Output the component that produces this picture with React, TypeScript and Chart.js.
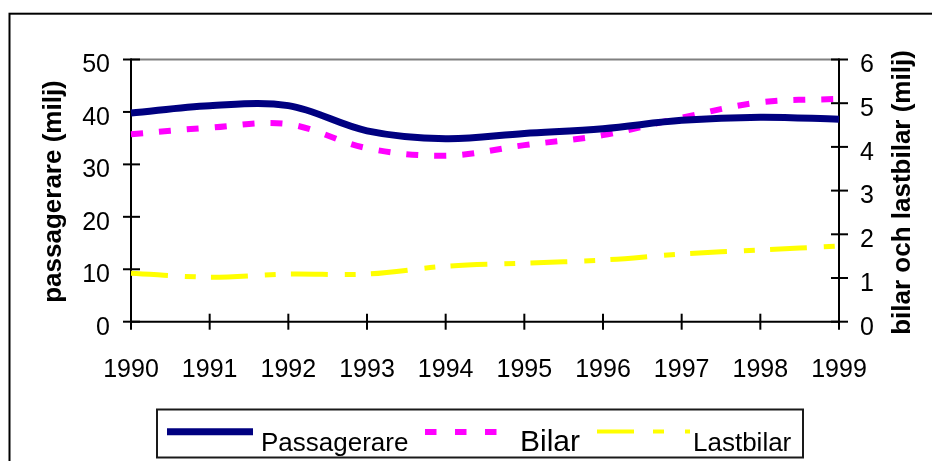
import React, { useEffect, useRef } from "react";
import { Chart, registerables } from "chart.js";

Chart.register(...registerables);

// ---- data ----
const years = ["1990", "1991", "1992", "1993", "1994", "1995", "1996", "1997", "1998", "1999"];
const passagerare = [39.8, 41.2, 41.2, 36.4, 34.9, 35.9, 36.8, 38.4, 39.0, 38.6];
const bilar = [4.29, 4.44, 4.52, 3.97, 3.8, 4.04, 4.27, 4.67, 5.02, 5.1];
const lastbilar = [1.11, 1.02, 1.09, 1.09, 1.27, 1.34, 1.41, 1.55, 1.64, 1.73];
const seriesLabels = ["Passagerare", "Bilar", "Lastbilar"];
const leftAxisTitle = "passagerare (milj)";
const rightAxisTitle = "bilar och lastbilar (milj)";
const leftRange = [0, 50, 10];
const rightRange = [0, 6, 1];

const FONT = "'Liberation Sans', Arial, Helvetica, sans-serif";
const NAVY = "#000080";
const MAGENTA = "#FF00FF";
const YELLOW = "#FFFF00";

const W = 932;
const H = 461;

const decorPlugin = {
  id: "decor",
  beforeDatasetsDraw(chart: any) {
    const { ctx, chartArea: a, scales } = chart;
    const line = (x1: number, y1: number, x2: number, y2: number) => {
      ctx.beginPath();
      ctx.moveTo(x1, y1);
      ctx.lineTo(x2, y2);
      ctx.stroke();
    };
    ctx.save();
    ctx.lineCap = "butt";
    ctx.strokeStyle = "#808080";
    ctx.lineWidth = 2;
    line(a.left, a.top, a.right, a.top);
    ctx.strokeStyle = "#000000";
    line(a.left, a.top - 1, a.left, a.bottom + 1);
    line(a.right, a.top - 1, a.right, a.bottom + 1);
    line(a.left, a.bottom, a.right, a.bottom);
    scales.y.ticks.forEach((t: any) => {
      const p = scales.y.getPixelForValue(t.value);
      line(a.left - 8, p, a.left + 9, p);
    });
    scales.y1.ticks.forEach((t: any) => {
      const p = scales.y1.getPixelForValue(t.value);
      line(a.right - 8, p, a.right + 9, p);
    });
    scales.x.ticks.forEach((_t: any, i: number) => {
      const p = scales.x.getPixelForTick(i);
      line(p, a.bottom - 8, p, a.bottom + 8);
    });
    ctx.restore();
  },
  afterDraw(chart: any) {
    const { ctx } = chart;
    ctx.save();
    // outer frame (extends beyond the picture on right and bottom)
    ctx.strokeStyle = "#000000";
    ctx.lineWidth = 2;
    ctx.strokeRect(9.5, 13.7, 1000, 1000);

    // axis titles
    ctx.fillStyle = "#000000";
    ctx.font = `bold 26px ${FONT}`;
    ctx.textAlign = "center";
    ctx.textBaseline = "middle";
    ctx.save();
    ctx.translate(54, 191.5);
    ctx.rotate(-Math.PI / 2);
    ctx.fillText(leftAxisTitle, 0, 0);
    ctx.restore();
    ctx.save();
    ctx.translate(903, 192.5);
    ctx.rotate(-Math.PI / 2);
    ctx.fillText(rightAxisTitle, 0, 0);
    ctx.restore();

    // legend box
    ctx.lineWidth = 2;
    ctx.strokeStyle = "#1a1a1a";
    ctx.fillStyle = "#ffffff";
    ctx.fillRect(157, 409.5, 646, 48);
    ctx.strokeRect(157, 409.5, 646, 48);

    // samples
    ctx.lineCap = "butt";
    ctx.strokeStyle = NAVY;
    ctx.lineWidth = 7;
    ctx.setLineDash([]);
    ctx.beginPath();
    ctx.moveTo(167, 431.7);
    ctx.lineTo(253, 431.7);
    ctx.stroke();

    ctx.strokeStyle = MAGENTA;
    ctx.lineWidth = 6;
    ctx.setLineDash([11.5, 18.5]);
    ctx.beginPath();
    ctx.moveTo(425, 432);
    ctx.lineTo(497, 432);
    ctx.stroke();

    ctx.strokeStyle = YELLOW;
    ctx.lineWidth = 4;
    ctx.setLineDash([37, 19, 11, 21]);
    ctx.beginPath();
    ctx.moveTo(597, 431.5);
    ctx.lineTo(690, 431.5);
    ctx.stroke();
    ctx.setLineDash([]);

    // legend texts
    ctx.fillStyle = "#000000";
    ctx.textAlign = "left";
    ctx.textBaseline = "alphabetic";
    ctx.font = `26px ${FONT}`;
    ctx.fillText(seriesLabels[0], 261, 451);
    ctx.font = `30px ${FONT}`;
    ctx.fillText(seriesLabels[1], 520, 451);
    ctx.font = `26px ${FONT}`;
    ctx.fillText(seriesLabels[2], 693, 451);
    ctx.restore();
  },
};

export default function App() {
  const canvasRef = useRef<HTMLCanvasElement | null>(null);

  useEffect(() => {
    if (!canvasRef.current) return;
    const tickFont = { family: FONT, size: 25 };
    const chart = new Chart(canvasRef.current, {
      type: "line",
      data: {
        labels: years,
        datasets: [
          {
            label: seriesLabels[0],
            data: passagerare,
            yAxisID: "y",
            borderColor: NAVY,
            borderWidth: 7,
            pointRadius: 0,
            tension: 0.35,
            fill: false,
          },
          {
            label: seriesLabels[1],
            data: bilar,
            yAxisID: "y1",
            borderColor: MAGENTA,
            borderWidth: 6,
            borderDash: [12, 16],
            pointRadius: 0,
            tension: 0.35,
            fill: false,
          },
          {
            label: seriesLabels[2],
            data: lastbilar,
            yAxisID: "y1",
            borderColor: YELLOW,
            borderWidth: 5,
            borderDash: [37, 17, 11, 15],
            pointRadius: 0,
            tension: 0.35,
            fill: false,
          },
        ],
      },
      options: {
        animation: false,
        responsive: false,
        devicePixelRatio: 1,
        layout: { padding: { top: 59.5, left: 0, right: 0, bottom: 0 } },
        plugins: {
          legend: { display: false },
          tooltip: { enabled: false },
        },
        scales: {
          x: {
            type: "category",
            offset: false,
            grid: { display: false, drawTicks: false },
            border: { display: false },
            ticks: {
              font: tickFont,
              color: "#000000",
              padding: 33,
              maxRotation: 0,
              autoSkip: false,
            },
            afterFit: (s: any) => {
              s.height = H - 321.7;
            },
          },
          y: {
            type: "linear",
            position: "left",
            min: leftRange[0],
            max: leftRange[1],
            grid: { display: false, drawTicks: false },
            border: { display: false },
            ticks: {
              stepSize: leftRange[2],
              font: tickFont,
              color: "#000000",
              padding: 21,
              labelOffset: 6,
            },
            afterFit: (s: any) => {
              s.width = 131;
            },
          },
          y1: {
            type: "linear",
            position: "right",
            min: rightRange[0],
            max: rightRange[1],
            grid: { display: false, drawTicks: false },
            border: { display: false },
            ticks: {
              stepSize: rightRange[2],
              font: tickFont,
              color: "#000000",
              padding: 21,
              labelOffset: 6,
            },
            afterFit: (s: any) => {
              s.width = W - 839;
            },
          },
        },
      },
      plugins: [decorPlugin],
    } as any);
    return () => chart.destroy();
  }, []);

  return (
    <div style={{ position: "absolute", left: 0, top: 0, width: W, height: H, background: "#ffffff" }}>
      <canvas ref={canvasRef} width={W} height={H} style={{ display: "block", width: W, height: H }} />
    </div>
  );
}
